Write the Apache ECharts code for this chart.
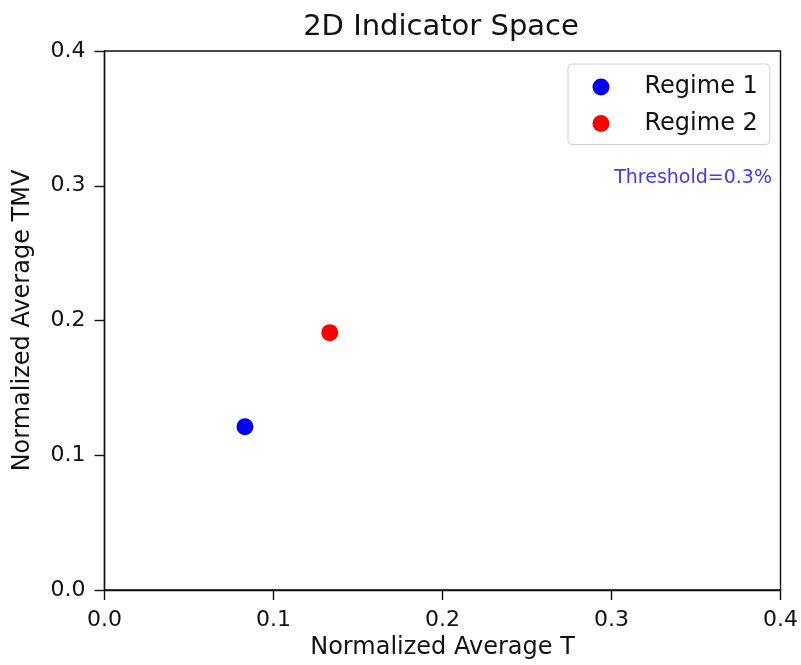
<!DOCTYPE html>
<html>
<head>
<meta charset="utf-8">
<script src="https://cdn.jsdelivr.net/npm/echarts@6/dist/echarts.min.js"></script>
<style>
  html, body { margin: 0; padding: 0; background: #fff; }
  #chart { width: 801px; height: 665px; }
</style>
</head>
<body>
<div id="chart"></div>
<script>
// Regime centroids in the normalized indicator plane
const regimeNames = ['Regime 1', 'Regime 2'];
const regimeColors = ['#0000ff', '#ff0000'];
const avgT = [0.0831, 0.1333];
const avgTMV = [0.1212, 0.1910];
const ticks = [0.0, 0.1, 0.2, 0.3, 0.4];
const thresholdLabel = 'Threshold=0.3%';

const font = 'DejaVu Sans';
const chart = echarts.init(document.getElementById('chart'), null, { renderer: 'canvas' });

const axisCommon = {
  min: ticks[0],
  max: ticks[ticks.length - 1],
  interval: 0.1,
  splitLine: { show: false },
  axisLine: { show: true, onZero: false, lineStyle: { color: '#111', width: 1.4 } },
  axisTick: { show: true, inside: false, length: 10, lineStyle: { color: '#111', width: 1.4 } },
  axisLabel: { color: '#111', fontFamily: font, fontSize: 22, margin: 19,
               formatter: v => v.toFixed(1) },
  nameLocation: 'middle',
  nameTextStyle: { color: '#111', fontFamily: font, fontSize: 24 }
};

chart.setOption({
  animation: false,
  backgroundColor: '#fff',
  title: {
    text: '2D Indicator Space',
    left: 436, top: 8, textAlign: 'center',
    textStyle: { fontFamily: font, fontSize: 29, fontWeight: 'normal', color: '#111' }
  },
  grid: { left: 104.5, right: 20, top: 51, bottom: 75, show: true, borderColor: '#111', borderWidth: 1.4 },
  xAxis: Object.assign({}, axisCommon, { type: 'value', name: 'Normalized Average T', nameGap: 46 }),
  yAxis: Object.assign({}, axisCommon, { type: 'value', name: 'Normalized Average TMV', nameGap: 70 }),
  legend: {
    orient: 'vertical',
    left: 568, top: 64,
    padding: [11, 12, 9, 24.5],
    itemWidth: 17, itemHeight: 17, itemGap: 12.5,
    icon: 'circle',
    itemStyle: { opacity: 1 },
    borderColor: '#d0d0d0', borderWidth: 1, borderRadius: 4,
    backgroundColor: '#fff',
    textStyle: { fontFamily: font, fontSize: 24, color: '#111', lineHeight: 23, padding: [0, 0, 0, 30] },
    data: regimeNames
  },
  graphic: [{
    type: 'text',
    right: 29, top: 169,
    style: { text: thresholdLabel, fontFamily: font, fontSize: 19, fill: '#3a3aff' }
  }],
  series: regimeNames.map((name, i) => ({
    name: name,
    type: 'scatter',
    symbol: 'circle',
    symbolSize: 17,
    itemStyle: { color: regimeColors[i], opacity: 1 },
    data: [[avgT[i], avgTMV[i]]]
  }))
});
</script>
</body>
</html>
